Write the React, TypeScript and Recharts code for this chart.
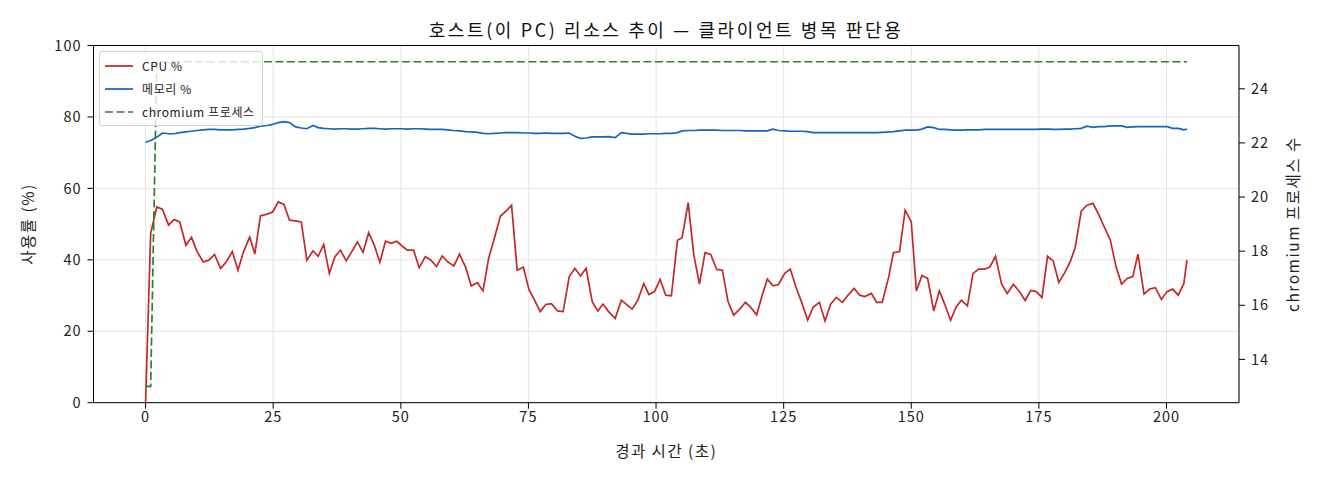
import { CartesianGrid, ComposedChart, Line, ReferenceLine, XAxis, YAxis } from 'recharts';

const FONT = '"Noto Sans CJK KR", "Noto Sans", sans-serif';

// elapsed seconds of each sample
const times = [
  0, 1.0, 2.2, 3.3, 4.5, 5.6, 6.7, 7.9, 9.0, 10.1, 11.3, 12.4, 13.5, 14.7, 15.8, 17.0, 18.1, 19.2, 20.4, 21.4, 22.5, 23.8, 24.9, 26.0, 27.1, 28.2,
  29.4, 30.5, 31.6, 32.8, 33.8, 34.9, 36.0, 37.1, 38.2, 39.3, 40.4, 41.5, 42.6, 43.7, 44.8, 45.9, 47.0, 48.1, 49.2, 50.3, 51.3, 52.5, 53.6, 54.8, 55.9, 57.0,
  58.1, 59.2, 60.4, 61.5, 62.7, 63.8, 65.0, 66.1, 67.2, 68.4, 69.5, 70.6, 71.7, 72.8, 74.0, 75.1, 76.2, 77.3, 78.4, 79.5, 80.7, 81.8, 83.0, 84.1, 85.2, 86.3,
  87.5, 88.6, 89.6, 90.7, 92.0, 93.2, 94.2, 95.3, 96.4, 97.6, 98.6, 99.7, 100.8, 101.9, 103.0, 104.2, 105.1, 106.3, 107.4, 108.5, 109.6, 110.7, 111.9, 113.0, 114.1, 115.2,
  116.4, 117.5, 118.6, 119.7, 120.8, 121.8, 122.9, 124.0, 125.2, 126.3, 127.4, 128.6, 129.7, 130.8, 132.0, 133.1, 134.2, 135.3, 136.5, 137.6, 138.8, 139.9, 140.9, 142.2, 143.2, 144.3,
  145.6, 146.5, 147.7, 148.8, 150.0, 151.0, 152.1, 153.2, 154.4, 155.5, 156.6, 157.7, 158.8, 159.8, 161.0, 162.1, 163.2, 164.4, 165.4, 166.5, 167.7, 168.8, 170.0, 171.1, 172.3, 173.4,
  174.5, 175.6, 176.7, 177.8, 178.9, 180.1, 181.2, 182.1, 183.3, 184.4, 185.6, 186.7, 187.8, 189.0, 190.1, 191.2, 192.3, 193.4, 194.4, 195.6, 196.7, 197.8, 199.0, 200.1, 201.2, 202.3, 203.4, 204.0,
];

const cpuPct = [
  0, 47.4, 54.8, 54.2, 49.7, 51.3, 50.6, 44.1, 46.3, 42.3, 39.4, 39.9, 41.5, 37.6, 39.4, 42.3, 37.1, 42.3, 46.4, 41.6, 52.3, 52.8, 53.4, 56.2, 55.5, 51.1,
  50.9, 50.6, 39.9, 42.5, 41.0, 44.3, 36.2, 40.9, 42.7, 39.7, 42.3, 45.0, 42.1, 47.6, 44.1, 39.3, 45.2, 44.6, 45.2, 43.8, 42.7, 42.7, 37.8, 40.9, 39.9, 38.1,
  41.1, 39.4, 38.3, 41.6, 37.9, 32.7, 33.6, 31.3, 40.4, 46.4, 52.2, 53.6, 55.3, 37.1, 37.9, 31.7, 28.7, 25.5, 27.5, 27.7, 25.7, 25.5, 35.3, 37.6, 35.5, 37.6,
  28.3, 25.7, 27.6, 25.5, 23.6, 28.7, 27.5, 26.2, 28.6, 33.4, 30.3, 31.1, 34.5, 30.1, 29.9, 45.5, 46.2, 56.0, 41.3, 33.2, 42.0, 41.5, 37.3, 37.1, 28.3, 24.5,
  26.2, 28.1, 26.6, 24.6, 30.1, 34.6, 32.7, 33.1, 36.2, 37.4, 32.4, 27.8, 23.1, 26.8, 28.1, 22.9, 27.6, 29.5, 28.1, 30.1, 32.0, 30.1, 29.7, 30.6, 28.1, 28.1,
  35.3, 42.0, 42.3, 53.9, 50.6, 31.3, 35.6, 34.8, 25.7, 31.3, 27.4, 23.1, 26.8, 28.7, 27.1, 36.2, 37.4, 37.4, 38.0, 41.0, 33.2, 30.6, 33.1, 31.3, 28.6, 31.4,
  31.1, 29.4, 41.0, 39.7, 33.7, 36.5, 39.7, 43.4, 53.6, 55.3, 55.8, 52.7, 49.2, 45.5, 38.1, 33.2, 34.8, 35.3, 41.6, 30.4, 31.8, 32.2, 28.9, 31.1, 31.8, 30.1, 33.4, 39.9,
];

const memPct = [
  72.9, 73.4, 74.3, 75.5, 75.3, 75.3, 75.6, 75.8, 76.0, 76.2, 76.4, 76.5, 76.5, 76.4, 76.4, 76.4, 76.5, 76.6, 76.8, 77.0, 77.4, 77.6, 77.9, 78.4, 78.7, 78.4,
  77.2, 76.9, 76.7, 77.6, 77.0, 76.8, 76.7, 76.6, 76.7, 76.7, 76.6, 76.6, 76.7, 76.8, 76.8, 76.7, 76.6, 76.7, 76.7, 76.7, 76.6, 76.7, 76.7, 76.6, 76.5, 76.5,
  76.5, 76.4, 76.2, 76.1, 75.9, 75.8, 75.7, 75.4, 75.3, 75.4, 75.5, 75.6, 75.6, 75.6, 75.5, 75.5, 75.4, 75.4, 75.5, 75.4, 75.4, 75.4, 75.5, 74.6, 74.0, 74.1,
  74.4, 74.4, 74.4, 74.5, 74.2, 75.6, 75.4, 75.2, 75.2, 75.2, 75.3, 75.3, 75.3, 75.4, 75.4, 75.6, 76.1, 76.2, 76.2, 76.3, 76.3, 76.3, 76.3, 76.2, 76.2, 76.2,
  76.2, 76.1, 76.1, 76.1, 76.1, 76.1, 76.6, 76.2, 76.1, 76.0, 76.0, 76.0, 75.9, 75.6, 75.6, 75.6, 75.6, 75.6, 75.6, 75.6, 75.6, 75.6, 75.6, 75.6, 75.6, 75.7,
  75.8, 75.9, 76.1, 76.3, 76.3, 76.3, 76.6, 77.2, 77.0, 76.5, 76.5, 76.4, 76.3, 76.3, 76.4, 76.4, 76.4, 76.5, 76.5, 76.5, 76.5, 76.5, 76.5, 76.5, 76.5, 76.5,
  76.5, 76.6, 76.6, 76.5, 76.5, 76.6, 76.6, 76.7, 76.8, 77.4, 77.1, 77.3, 77.3, 77.5, 77.5, 77.5, 77.1, 77.2, 77.3, 77.3, 77.3, 77.3, 77.3, 77.3, 76.8, 76.8, 76.4, 76.6,
];

const chromiumProcs = [
  13, 13, 25, 25, 25, 25, 25, 25, 25, 25, 25, 25, 25, 25, 25, 25, 25, 25, 25, 25, 25, 25, 25, 25, 25, 25,
  25, 25, 25, 25, 25, 25, 25, 25, 25, 25, 25, 25, 25, 25, 25, 25, 25, 25, 25, 25, 25, 25, 25, 25, 25, 25,
  25, 25, 25, 25, 25, 25, 25, 25, 25, 25, 25, 25, 25, 25, 25, 25, 25, 25, 25, 25, 25, 25, 25, 25, 25, 25,
  25, 25, 25, 25, 25, 25, 25, 25, 25, 25, 25, 25, 25, 25, 25, 25, 25, 25, 25, 25, 25, 25, 25, 25, 25, 25,
  25, 25, 25, 25, 25, 25, 25, 25, 25, 25, 25, 25, 25, 25, 25, 25, 25, 25, 25, 25, 25, 25, 25, 25, 25, 25,
  25, 25, 25, 25, 25, 25, 25, 25, 25, 25, 25, 25, 25, 25, 25, 25, 25, 25, 25, 25, 25, 25, 25, 25, 25, 25,
  25, 25, 25, 25, 25, 25, 25, 25, 25, 25, 25, 25, 25, 25, 25, 25, 25, 25, 25, 25, 25, 25, 25, 25, 25, 25, 25, 25,
];

const xTicks = [0, 25, 50, 75, 100, 125, 150, 175, 200];
const leftTicks = [0, 20, 40, 60, 80, 100];
const rightTicks = [14, 16, 18, 20, 22, 24];

const TITLE = '호스트(이 PC) 리소스 추이 — 클라이언트 병목 판단용';
const X_LABEL = '경과 시간 (초)';
const LEFT_LABEL = '사용률 (%)';
const RIGHT_LABEL = 'chromium 프로세스 수';

const series = [
  { key: 'cpu', name: 'CPU %', color: '#c62828', dash: undefined },
  { key: 'mem', name: '메모리 %', color: '#1565c0', dash: undefined },
  { key: 'proc', name: 'chromium 프로세스', color: '#2e7d32', dash: '8 3.5' },
];

const rows = times.map((t, i) => ({ t, cpu: cpuPct[i], mem: memPct[i], proc: chromiumProcs[i] }));

const tickStyle = { fontSize: 14.5, fill: '#222', fontFamily: FONT, letterSpacing: 1 };

function SideLabel(props: any) {
  const vb = props.viewBox;
  const cx = vb.x + props.dx0;
  const cy = vb.y + vb.height / 2;
  return (
    <text
      x={cx}
      y={cy}
      transform={`rotate(-90 ${cx} ${cy})`}
      textAnchor="middle"
      dominantBaseline="central"
      fontSize={15.5}
      letterSpacing={1.5}
      fill="#222"
      fontFamily={FONT}
    >
      {props.text}
    </text>
  );
}

function BottomLabel(props: any) {
  const vb = props.viewBox;
  return (
    <text
      x={vb.x + vb.width / 2}
      y={450}
      textAnchor="middle"
      dominantBaseline="central"
      fontSize={15.5}
      letterSpacing={1.5}
      fill="#222"
      fontFamily={FONT}
    >
      {X_LABEL}
    </text>
  );
}

function LegendBox() {
  return (
    <div
      style={{
        position: 'absolute',
        left: 99,
        top: 51,
        width: 164,
        height: 75,
        border: '1px solid #d0d0d0',
        borderRadius: 3,
        background: 'rgba(255,255,255,0.8)',
        boxSizing: 'border-box',
        paddingTop: 2,
        fontFamily: FONT,
        fontSize: 12,
        letterSpacing: 0.6,
        color: '#222',
      }}
    >
      {series.map((s) => (
        <div key={s.key} style={{ display: 'flex', alignItems: 'center', height: 23 }}>
          <svg width={42} height={10} style={{ flex: 'none' }}>
            <line x1={5} x2={33} y1={5} y2={5} stroke={s.color} strokeWidth={1.7} strokeDasharray={s.dash} />
          </svg>
          <span>{s.name}</span>
        </div>
      ))}
    </div>
  );
}

export default function App() {
  return (
    <div style={{ position: 'absolute', left: 0, top: 0, width: 1320, height: 480, background: '#fff' }}>
      <div
        style={{
          position: 'absolute',
          left: 93,
          width: 1146,
          top: 17,
          textAlign: 'center',
          fontFamily: FONT,
          fontSize: 18,
          letterSpacing: 2.6,
          color: '#111',
          lineHeight: '24px',
        }}
      >
        {TITLE}
      </div>
      <ComposedChart width={1320} height={480} data={rows} margin={{ top: 45.5, right: 0, bottom: 0, left: 0 }}>
        <CartesianGrid yAxisId="left" stroke="#e4e4e4" strokeWidth={1} />
        <XAxis
          type="number"
          dataKey="t"
          domain={[-10.2, 214.2]}
          ticks={xTicks}
          allowDataOverflow
          height={77.3}
          tick={tickStyle}
          tickSize={6}
          tickMargin={3}
          stroke="#000"
          label={<BottomLabel />}
        />
        <YAxis
          yAxisId="left"
          domain={[0, 100]}
          ticks={leftTicks}
          width={93.5}
          tick={tickStyle}
          tickSize={6}
          tickMargin={6}
          stroke="#000"
          label={<SideLabel dx0={27} text={LEFT_LABEL} />}
        />
        <YAxis
          yAxisId="right"
          orientation="right"
          domain={[12.4, 25.6]}
          ticks={rightTicks}
          width={81}
          tick={tickStyle}
          tickSize={6}
          tickMargin={6}
          stroke="#000"
          label={<SideLabel dx0={53} text={RIGHT_LABEL} />}
        />
        <ReferenceLine yAxisId="left" y={100} stroke="#000" strokeWidth={1} />
        <Line yAxisId="left" dataKey="cpu" name="CPU %" stroke="#c62828" strokeWidth={1.7} dot={false} isAnimationActive={false} />
        <Line yAxisId="left" dataKey="mem" name="메모리 %" stroke="#1565c0" strokeWidth={1.7} dot={false} isAnimationActive={false} />
        <Line
          yAxisId="right"
          dataKey="proc"
          name="chromium 프로세스"
          stroke="#2e7d32"
          strokeWidth={1.7}
          strokeDasharray="8 3.5"
          dot={false}
          isAnimationActive={false}
        />
      </ComposedChart>
      <LegendBox />
    </div>
  );
}
